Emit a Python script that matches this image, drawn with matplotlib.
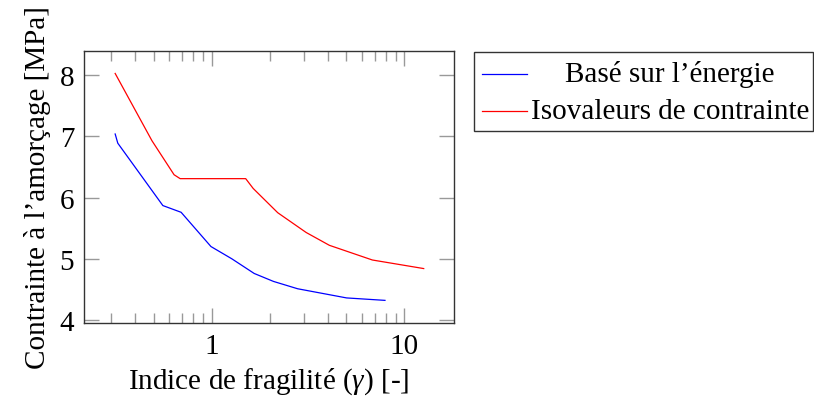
import matplotlib
matplotlib.use("Agg")
import matplotlib.pyplot as plt
from matplotlib.lines import Line2D
from matplotlib.patches import Rectangle
from matplotlib.ticker import FixedLocator, NullFormatter
import numpy as np

plt.rcParams['font.family'] = ['Liberation Serif', 'DejaVu Serif']
plt.rcParams['mathtext.fontset'] = 'custom'
plt.rcParams['mathtext.it'] = 'Liberation Serif:italic'
plt.rcParams['mathtext.rm'] = 'Liberation Serif'
plt.rcParams['font.size'] = 21

# data
gamma_energie = [0.315, 0.325, 0.557, 0.693, 0.99, 1.27, 1.66, 2.09, 2.79, 5.01, 7.93]
sigma_energie = [7.04, 6.89, 5.87, 5.76, 5.20, 5.00, 4.76, 4.63, 4.51, 4.36, 4.32]

gamma_iso = [0.315, 0.489, 0.637, 0.685, 1.50, 1.64, 2.20, 3.09, 4.08, 6.82, 12.6]
sigma_iso = [8.03, 6.93, 6.374, 6.31, 6.31, 6.15, 5.753, 5.43, 5.22, 4.98, 4.84]

labels = ["Basé sur l\u2019énergie", "Isovaleurs de contrainte"]
colors = ["blue", "red"]

fig = plt.figure(figsize=(8.14, 4.02), dpi=100)
ax = fig.add_axes([84/814, 1-324/402, 370/814, 272/402])

ax.plot(gamma_energie, sigma_energie, color=colors[0], lw=0.9)
ax.plot(gamma_iso, sigma_iso, color=colors[1], lw=0.9)

ax.set_xscale('log')
ax.set_xlim(0.217, 18.1)
ax.set_ylim(3.95, 8.397)
ax.set_yticks([4, 5, 6, 7, 8])
ax.set_xticks([1, 10])
ax.set_xticklabels(["1", "10"])
minors = [m * 10.0**e for e in (-1, 0, 1) for m in range(2, 10)]
ax.xaxis.set_minor_locator(FixedLocator(minors))
ax.xaxis.set_minor_formatter(NullFormatter())

ax.tick_params(which='major', direction='in', length=11, width=1.0, color='#999999',
               top=True, right=True, pad=7)
ax.tick_params(which='minor', direction='in', length=7, width=1.0, color='#999999',
               top=True, bottom=True)
ax.tick_params(axis='y', which='minor', left=False, right=False)
for s in ax.spines.values():
    s.set_linewidth(1.0)
    s.set_color('#333333')

ax.set_xlabel(r"Indice de fragilité ($\gamma$) [-]", labelpad=5)
ax.set_ylabel("Contrainte à l\u2019amorçage [MPa]", labelpad=6)

# legend box drawn by hand so the entries are centred like pgfplots
W, H = 814.0, 402.0
fig.add_artist(Rectangle((473.5/W, 1-131.5/H), 339/W, 79/H, transform=fig.transFigure,
                         fill=False, edgecolor='#333333', lw=1.0))
for i, (lab, c) in enumerate(zip(labels, colors)):
    yc = 1 - (75 + i*37)/H
    fig.add_artist(Line2D([482/W, 527/W], [yc, yc], transform=fig.transFigure,
                          color=c, lw=0.9))
    fig.text(670/W, yc, lab, ha='center', va='center', fontsize=21)

fig.savefig("out.png", dpi=100)
